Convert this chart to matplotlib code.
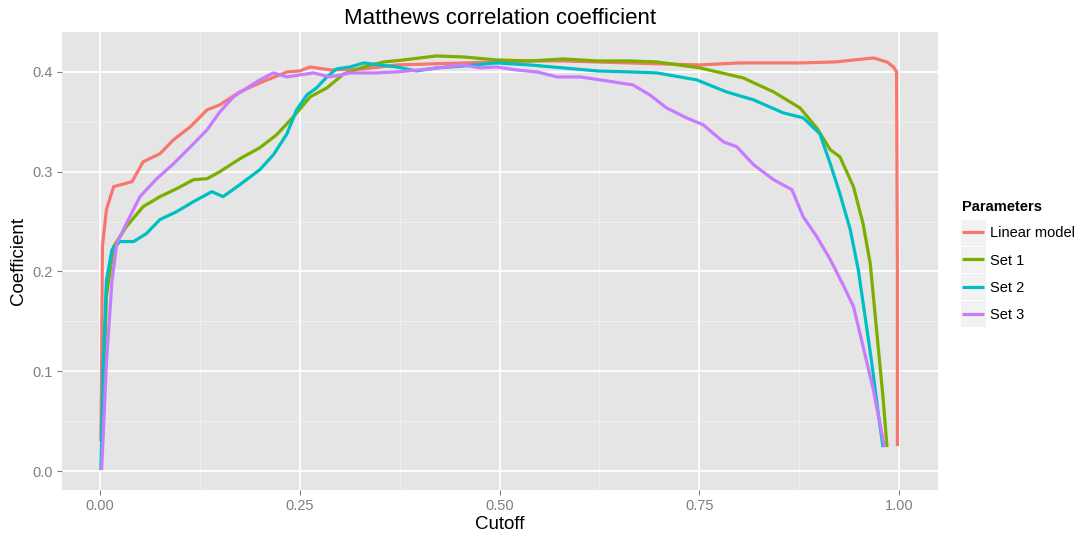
import matplotlib
matplotlib.use("Agg")
import matplotlib.pyplot as plt
from matplotlib.patches import Rectangle
from matplotlib.ticker import MultipleLocator

plt.rcParams['font.family'] = ['Liberation Sans', 'DejaVu Sans']

# values
series_names = ["Linear model", "Set 1", "Set 2", "Set 3"]
series_colors = ["#F8766D", "#7CAE00", "#00BFC4", "#C77CFF"]

lin_x = [0.001, 0.002, 0.003, 0.008, 0.017, 0.040, 0.054, 0.075, 0.092, 0.113,
         0.134, 0.150, 0.175, 0.200, 0.234, 0.250, 0.263, 0.288, 0.330, 0.371,
         0.413, 0.455, 0.496, 0.538, 0.580, 0.622, 0.663, 0.750, 0.800, 0.876,
         0.920, 0.968, 0.985, 0.993, 0.997, 0.998, 0.998]
lin_y = [0.030, 0.120, 0.225, 0.262, 0.285, 0.290, 0.310, 0.318, 0.332, 0.345,
         0.362, 0.367, 0.380, 0.389, 0.400, 0.401, 0.405, 0.402, 0.403, 0.407,
         0.408, 0.409, 0.410, 0.411, 0.411, 0.410, 0.409, 0.407, 0.409, 0.409,
         0.410, 0.414, 0.410, 0.405, 0.400, 0.200, 0.025]

s1_x = [0.003, 0.005, 0.008, 0.017, 0.033, 0.054, 0.075, 0.096, 0.117, 0.134,
        0.150, 0.175, 0.200, 0.221, 0.242, 0.263, 0.284, 0.305, 0.330, 0.355,
        0.380, 0.421, 0.455, 0.496, 0.538, 0.580, 0.622, 0.663, 0.697, 0.751,
        0.805, 0.843, 0.876, 0.897, 0.914, 0.926, 0.943, 0.955, 0.964, 0.972,
        0.980, 0.985]
s1_y = [0.030, 0.100, 0.175, 0.225, 0.245, 0.265, 0.275, 0.283, 0.292, 0.293,
        0.300, 0.313, 0.324, 0.337, 0.355, 0.375, 0.384, 0.398, 0.405, 0.410,
        0.412, 0.416, 0.415, 0.412, 0.411, 0.413, 0.411, 0.411, 0.410, 0.404,
        0.394, 0.380, 0.364, 0.344, 0.322, 0.315, 0.285, 0.248, 0.208, 0.141,
        0.074, 0.024]

s2_x = [0.001, 0.004, 0.008, 0.015, 0.025, 0.042, 0.058, 0.075, 0.096, 0.117,
        0.140, 0.154, 0.175, 0.200, 0.217, 0.234, 0.246, 0.259, 0.271, 0.284,
        0.296, 0.313, 0.330, 0.350, 0.371, 0.396, 0.421, 0.455, 0.496, 0.538,
        0.580, 0.622, 0.663, 0.697, 0.747, 0.784, 0.818, 0.855, 0.880, 0.901,
        0.914, 0.926, 0.939, 0.949, 0.957, 0.966, 0.974, 0.980]
s2_y = [0.001, 0.108, 0.191, 0.222, 0.230, 0.230, 0.238, 0.252, 0.260, 0.270,
        0.280, 0.275, 0.287, 0.302, 0.317, 0.338, 0.362, 0.377, 0.384, 0.395,
        0.403, 0.405, 0.409, 0.407, 0.405, 0.401, 0.404, 0.406, 0.409, 0.407,
        0.404, 0.401, 0.400, 0.399, 0.392, 0.380, 0.372, 0.359, 0.354, 0.338,
        0.308, 0.278, 0.242, 0.202, 0.158, 0.108, 0.058, 0.024]

s3_x = [0.002, 0.008, 0.015, 0.021, 0.033, 0.050, 0.071, 0.092, 0.117, 0.134,
        0.150, 0.167, 0.184, 0.200, 0.217, 0.234, 0.250, 0.267, 0.288, 0.313,
        0.346, 0.371, 0.413, 0.455, 0.476, 0.496, 0.521, 0.547, 0.572, 0.601,
        0.626, 0.667, 0.688, 0.709, 0.734, 0.755, 0.780, 0.797, 0.818, 0.843,
        0.866, 0.880, 0.897, 0.914, 0.931, 0.943, 0.955, 0.968, 0.976, 0.982]
s3_y = [0.001, 0.108, 0.191, 0.228, 0.248, 0.275, 0.293, 0.308, 0.328, 0.342,
        0.360, 0.375, 0.384, 0.392, 0.399, 0.395, 0.397, 0.399, 0.395, 0.399,
        0.399, 0.400, 0.403, 0.407, 0.404, 0.405, 0.402, 0.400, 0.395, 0.395,
        0.392, 0.387, 0.377, 0.364, 0.354, 0.347, 0.330, 0.325, 0.307, 0.292,
        0.282, 0.255, 0.235, 0.212, 0.185, 0.165, 0.125, 0.081, 0.048, 0.024]

x_ticks = [0.00, 0.25, 0.50, 0.75, 1.00]
x_tick_labels = ["0.00", "0.25", "0.50", "0.75", "1.00"]
y_ticks = [0.0, 0.1, 0.2, 0.3, 0.4]
y_tick_labels = ["0.0", "0.1", "0.2", "0.3", "0.4"]

fig = plt.figure(figsize=(10.8, 5.38), dpi=100)
ax = fig.add_axes([0.0574, 0.0892, 0.8111, 0.8513])
ax.set_facecolor("#E5E5E5")

for sp in ax.spines.values():
    sp.set_visible(False)

# grid like ggplot's theme_grey
ax.xaxis.set_minor_locator(MultipleLocator(0.125))
ax.yaxis.set_minor_locator(MultipleLocator(0.05))
ax.grid(which="major", color="white", linewidth=1.3)
ax.grid(which="minor", color="#F2F2F2", linewidth=0.6)
ax.set_axisbelow(True)

all_x = [lin_x, s1_x, s2_x, s3_x]
all_y = [lin_y, s1_y, s2_y, s3_y]
for xs, ys, name, col in zip(all_x, all_y, series_names, series_colors):
    ax.plot(xs, ys, color=col, linewidth=2.3, label=name, solid_capstyle="butt")

ax.set_xlim(-0.0476, 1.0488)
ax.set_ylim(-0.019, 0.440)
ax.set_xticks(x_ticks)
ax.set_xticklabels(x_tick_labels)
ax.set_yticks(y_ticks)
ax.set_yticklabels(y_tick_labels)
ax.tick_params(which="major", length=3.5, width=0.8, color="#7F7F7F",
               labelcolor="#7F7F7F", labelsize=10.5, pad=3)
ax.tick_params(which="minor", length=0)

ax.set_xlabel("Cutoff", fontsize=13.5, labelpad=2)
ax.set_ylabel("Coefficient", fontsize=13.5, labelpad=4)
ax.set_title("Matthews correlation coefficient", fontsize=16, pad=6)

leg = ax.legend(title="Parameters", loc="upper left",
                bbox_to_anchor=(1.0205, 0.646), frameon=False, fontsize=10.5,
                handlelength=1.5, labelspacing=0.9,
                handletextpad=0.45, borderaxespad=0)
leg.get_title().set_fontweight("bold")
leg.get_title().set_fontsize(10.5)
leg._legend_box.align = "left"
leg._legend_box.sep = 9

# grey key backgrounds behind the legend lines
fig.canvas.draw()
renderer = fig.canvas.get_renderer()
inv = fig.transFigure.inverted()
for h in leg.legend_handles:
    bb = h.get_window_extent(renderer)
    cx = (bb.x0 + bb.x1) / 2
    cy = (bb.y0 + bb.y1) / 2
    w, hh = 26, 27
    x0, y0 = inv.transform((cx - w / 2, cy - hh / 2))
    x1, y1 = inv.transform((cx + w / 2, cy + hh / 2))
    fig.patches.append(Rectangle((x0, y0), x1 - x0, y1 - y0, transform=fig.transFigure,
                                 facecolor="#F2F2F2", edgecolor="white",
                                 linewidth=0.8, zorder=-1))

fig.savefig("out.png", dpi=100)
